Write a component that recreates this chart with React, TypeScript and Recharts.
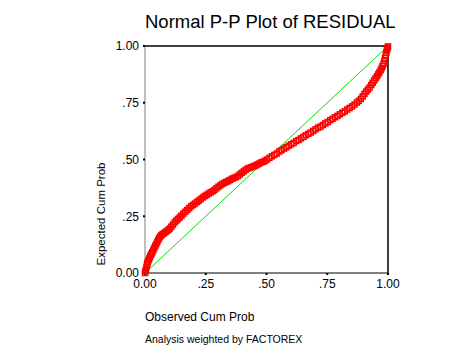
import React from 'react';
import { ScatterChart, Scatter, XAxis, YAxis, ReferenceLine } from 'recharts';

const observed = [
  0.000, 0.002, 0.004, 0.006, 0.008, 0.010, 0.012, 0.015, 0.018, 0.021, 0.024, 0.027, 0.030, 0.034, 0.038, 0.042, 0.046, 0.050,
  0.054, 0.058, 0.062, 0.067, 0.072, 0.078, 0.084, 0.090, 0.096,
  0.102, 0.108, 0.115, 0.122, 0.129, 0.136, 0.143, 0.150, 0.158, 0.166, 0.174, 0.182, 0.190, 0.198, 0.206, 0.214, 0.222, 0.230, 0.238, 0.246,
  0.254, 0.262, 0.270, 0.278, 0.286, 0.294, 0.302, 0.310, 0.318, 0.326, 0.334, 0.342, 0.350, 0.358, 0.366, 0.374, 0.382, 0.390, 0.398, 0.406,
  0.414, 0.422, 0.430, 0.438, 0.446, 0.454, 0.462, 0.470, 0.478, 0.486, 0.494,
  0.502, 0.512, 0.522, 0.532, 0.542, 0.552, 0.562, 0.572, 0.582, 0.592, 0.602, 0.612, 0.622, 0.632, 0.642, 0.652, 0.662, 0.672,
  0.682, 0.692, 0.702, 0.712, 0.722, 0.732, 0.742, 0.752, 0.762, 0.772, 0.782, 0.792, 0.802, 0.812, 0.822, 0.832, 0.842,
  0.852, 0.862, 0.872, 0.880, 0.888, 0.896, 0.903, 0.910, 0.917, 0.924, 0.931, 0.937, 0.943, 0.949, 0.955, 0.960, 0.965, 0.970,
  0.974, 0.978, 0.982, 0.985, 0.988, 0.991, 0.993, 0.995, 0.997, 0.999, 1.000,
];
const expected = [
  0.000, 0.008, 0.016, 0.026, 0.035, 0.043, 0.050, 0.057, 0.064, 0.072, 0.080, 0.086, 0.092, 0.100, 0.110, 0.119, 0.127, 0.136,
  0.145, 0.153, 0.160, 0.166, 0.171, 0.175, 0.180, 0.185, 0.190,
  0.196, 0.204, 0.213, 0.223, 0.231, 0.238, 0.245, 0.253, 0.262, 0.270, 0.278, 0.286, 0.294, 0.300, 0.306, 0.313, 0.319, 0.326, 0.333, 0.339,
  0.344, 0.350, 0.355, 0.360, 0.366, 0.373, 0.380, 0.386, 0.392, 0.397, 0.401, 0.405, 0.410, 0.415, 0.419, 0.422, 0.427, 0.434, 0.441, 0.447,
  0.454, 0.460, 0.463, 0.466, 0.470, 0.473, 0.478, 0.482, 0.487, 0.490, 0.494,
  0.500, 0.507, 0.514, 0.520, 0.526, 0.535, 0.541, 0.548, 0.554, 0.561, 0.567, 0.573, 0.581, 0.586, 0.593, 0.600, 0.607, 0.613,
  0.619, 0.626, 0.633, 0.640, 0.645, 0.652, 0.659, 0.665, 0.673, 0.679, 0.686, 0.692, 0.699, 0.706, 0.712, 0.720, 0.727,
  0.734, 0.742, 0.751, 0.758, 0.767, 0.778, 0.789, 0.799, 0.808, 0.817, 0.828, 0.838, 0.848, 0.858, 0.867, 0.876, 0.885, 0.894,
  0.903, 0.912, 0.922, 0.935, 0.948, 0.960, 0.970, 0.980, 0.988, 0.994, 0.998,
];
const tickValues = [0, 0.25, 0.5, 0.75, 1];
const tickLabels = ['0.00', '.25', '.50', '.75', '1.00'];

const data = observed.map((x, i) => ({ x, y: expected[i] }));
const fmt = (v: number) => tickLabels[tickValues.indexOf(v)] ?? String(v);
const FONT = '"Liberation Sans", Arial, sans-serif';

const Square = (props: any) => {
  const { cx, cy } = props;
  if (cx == null || cy == null) return null;
  return <rect x={cx - 2.5} y={cy - 2.5} width={5} height={5} fill="none" stroke="#ff0000" strokeWidth={1.5} />;
};

export default function App() {
  return (
    <div style={{ position: 'absolute', left: 0, top: 0, width: 476, height: 356, background: '#fff' }}>
      <ScatterChart width={476} height={356} margin={{ top: 46, right: 88, bottom: 53, left: 105 }}>
        <XAxis
          type="number"
          dataKey="x"
          domain={[0, 1]}
          ticks={tickValues}
          tickFormatter={fmt}
          height={30}
          stroke="#000"
          tickSize={2}
          tickMargin={4}
          tickLine={{ stroke: '#000', strokeWidth: 2 }}
          tick={{ fill: '#000', fontSize: 12, fontFamily: FONT }}
          interval={0}
        />
        <YAxis
          type="number"
          dataKey="y"
          domain={[0, 1]}
          ticks={tickValues}
          tickFormatter={fmt}
          width={40}
          axisLine={{ stroke: '#808080' }}
          tickSize={2}
          tickMargin={4}
          tickLine={{ stroke: '#000', strokeWidth: 2 }}
          tick={{ fill: '#000', fontSize: 12, fontFamily: FONT }}
          interval={0}
        />
        <ReferenceLine y={1} stroke="#000" strokeWidth={1.5} />
        <ReferenceLine x={1} stroke="#000" strokeWidth={1.5} />
        <ReferenceLine segment={[{ x: 0, y: 0 }, { x: 1, y: 1 }]} stroke="#00e000" strokeWidth={1} />
        <Scatter data={data} shape={<Square />} isAnimationActive={false} />
      </ScatterChart>
      <svg width={476} height={356} style={{ position: 'absolute', left: 0, top: 0, pointerEvents: 'none' }}>
        <text x={145} y={28} fontSize={18.5} fontFamily={FONT} fill="#000">Normal P-P Plot of RESIDUAL</text>
        <text x={105} y={214} fontSize={11.5} fontFamily={FONT} fill="#000" textAnchor="middle" transform="rotate(-90 105 214)">Expected Cum Prob</text>
        <text x={145} y={321} fontSize={12} fontFamily={FONT} fill="#000">Observed Cum Prob</text>
        <text x={145} y={343} fontSize={10.5} fontFamily={FONT} fill="#000">Analysis weighted by FACTOREX</text>
      </svg>
    </div>
  );
}
